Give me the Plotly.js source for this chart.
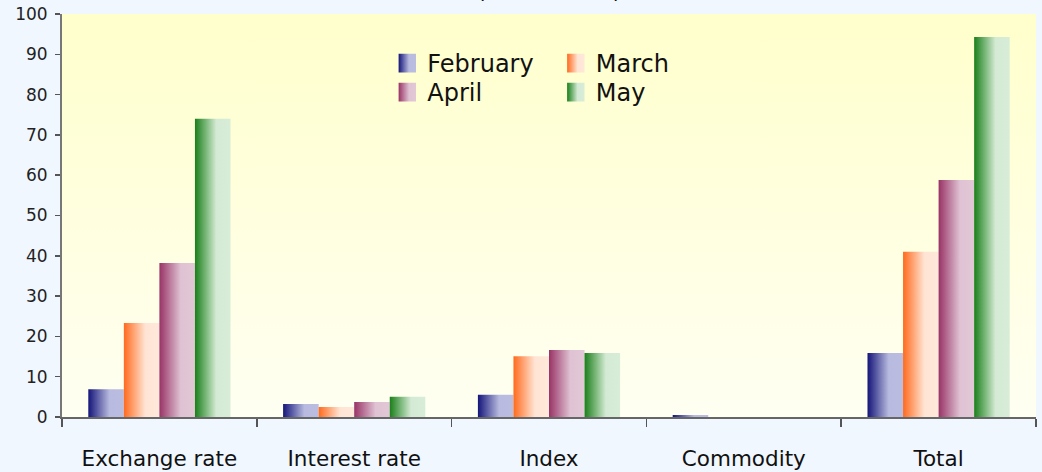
<!DOCTYPE html>
<html>
<head>
<meta charset="utf-8">
<script src="https://cdn.plot.ly/plotly-3.0.1.min.js"></script>
<style>
  html, body { margin: 0; padding: 0; background: #f0f7ff; }
  #chart { width: 1042px; height: 472px; }
</style>
</head>
<body>
<div id="chart"></div>
<script>
// ---- data ----
const categories = ["Exchange rate", "Interest rate", "Index", "Commodity", "Total"];
const seriesNames = ["February", "March", "April", "May"];
const february = [6.9, 3.2, 5.5, 0.5, 15.9];
const march    = [23.3, 2.5, 15.1, 0, 41.0];
const april    = [38.2, 3.7, 16.6, 0, 58.8];
const may      = [74.0, 5.0, 15.9, 0, 94.3];
const yTickVals = [0, 10, 20, 30, 40, 50, 60, 70, 80, 90, 100];
const titleText = "(USD million)";

// ---- styles ----
const gradStops = {
  "February": [["0", "#15157a"], ["0.6", "#b8bbdf"], ["1", "#babde0"]],
  "March":    [["0", "#ff6a1e"], ["0.6", "#ffe4d4"], ["1", "#ffe8da"]],
  "April":    [["0", "#993366"], ["0.6", "#dfc2d3"], ["1", "#e2c8d7"]],
  "May":      [["0", "#1a7f1a"], ["0.6", "#d4ead4"], ["1", "#d8edd8"]]
};
const solid = { "February": "#5a5aa8", "March": "#ff9a6a", "April": "#bd7a9c", "May": "#6aaa6a" };
const legendOf = { "February": "legend", "March": "legend2", "April": "legend3", "May": "legend4" };
const values = [february, march, april, may];

const font = "DejaVu Sans, Verdana, sans-serif";
const legFont = { family: font, size: 24, color: "#111111" };

const traces = seriesNames.map((n, i) => ({
  type: "bar", name: n, x: categories, y: values[i],
  marker: { color: solid[n], line: { width: 0 } },
  legend: legendOf[n], hoverinfo: "none"
}));

function legendAt(x, y) {
  return { x: x, y: y, xanchor: "left", yanchor: "top", bgcolor: "rgba(0,0,0,0)", borderwidth: 0,
    font: legFont, tracegroupgap: 0, itemclick: false, itemdoubleclick: false };
}

const layout = {
  width: 1042, height: 472,
  margin: { l: 62, r: 6, t: 14, b: 55, pad: 0 },
  paper_bgcolor: "#f0f7ff", plot_bgcolor: "#ffffe8",
  barmode: "group", bargap: 0.27, bargroupgap: 0, showlegend: true,
  font: { family: font, color: "#111111" },
  xaxis: { type: "category", tickson: "boundaries", ticks: "outside", ticklen: 8, tickwidth: 1.5,
    tickcolor: "#555555", showline: true, linecolor: "#666666", linewidth: 2, showgrid: false,
    zeroline: false, ticklabelstandoff: 21, tickfont: { family: font, size: 21.5, color: "#111111" }, fixedrange: true },
  yaxis: { range: [0, 100], tickvals: yTickVals, ticktext: yTickVals.map(String), ticks: "outside",
    ticklen: 5, tickwidth: 1.5, tickcolor: "#555555", showline: true, linecolor: "#777777", linewidth: 2,
    showgrid: false, zeroline: false, ticklabelstandoff: 4,
    tickfont: { family: font, size: 17, color: "#222222" }, fixedrange: true },
  legend:  legendAt(0.334, 0.9330),
  legend2: legendAt(0.507, 0.9330),
  legend3: legendAt(0.334, 0.8610),
  legend4: legendAt(0.507, 0.8610),
  annotations: [{ text: titleText, xref: "paper", yref: "paper", x: 0.5, y: 1.0223,
    xanchor: "center", yanchor: "bottom", showarrow: false,
    font: { family: font, size: 22, color: "#111111" } }]
};

const NS = "http://www.w3.org/2000/svg";
const ids = {};
seriesNames.forEach((n, i) => { ids[n] = "barGrad" + i; });

function ensureDefs(gd) {
  const svg = gd.querySelector("svg.main-svg");
  if (!svg || svg.querySelector("#plotBgGrad")) return;
  const defs = document.createElementNS(NS, "defs");
  svg.insertBefore(defs, svg.firstChild);
  seriesNames.forEach((n) => {
    const g = document.createElementNS(NS, "linearGradient");
    g.setAttribute("id", ids[n]);
    g.setAttribute("x1", "0"); g.setAttribute("y1", "0"); g.setAttribute("x2", "1"); g.setAttribute("y2", "0");
    gradStops[n].forEach(s => {
      const st = document.createElementNS(NS, "stop");
      st.setAttribute("offset", s[0]); st.setAttribute("stop-color", s[1]); g.appendChild(st);
    });
    defs.appendChild(g);
  });
  const bg = document.createElementNS(NS, "linearGradient");
  bg.setAttribute("id", "plotBgGrad");
  bg.setAttribute("x1", "0"); bg.setAttribute("y1", "0"); bg.setAttribute("x2", "0"); bg.setAttribute("y2", "1");
  [["0", "#ffffcc"], ["1", "#fffff2"]].forEach(s => {
    const st = document.createElementNS(NS, "stop");
    st.setAttribute("offset", s[0]); st.setAttribute("stop-color", s[1]); bg.appendChild(st);
  });
  defs.appendChild(bg);
}

function applyGradients() {
  const gd = document.getElementById("chart");
  ensureDefs(gd);
  gd.querySelectorAll(".bglayer rect.bg").forEach(r => { r.style.fill = "url(#plotBgGrad)"; });
  gd.querySelectorAll(".barlayer .trace").forEach((t, i) => {
    const n = seriesNames[i];
    t.querySelectorAll("path").forEach(p => { p.style.fill = "url(#" + ids[n] + ")"; });
  });
  gd.querySelectorAll("g.traces").forEach(item => {
    const txt = item.querySelector("text");
    if (!txt) return;
    const n = txt.textContent.trim();
    if (!ids[n]) return;
    item.querySelectorAll(".legendpoints path").forEach(p => {
      p.style.fill = "url(#" + ids[n] + ")";
      p.style.stroke = "none";
      if (!p.dataset.scaled) {
        const tr = p.getAttribute("transform") || "";
        p.setAttribute("transform", tr + " scale(1.45,1.55)");
        p.dataset.scaled = "1";
      }
    });
  });
}

const gdEl = document.getElementById("chart");
Plotly.newPlot(gdEl, traces, layout, { displayModeBar: false, staticPlot: true })
  .then(() => {
    applyGradients();
    setTimeout(applyGradients, 50);
  });
</script>
</body>
</html>
